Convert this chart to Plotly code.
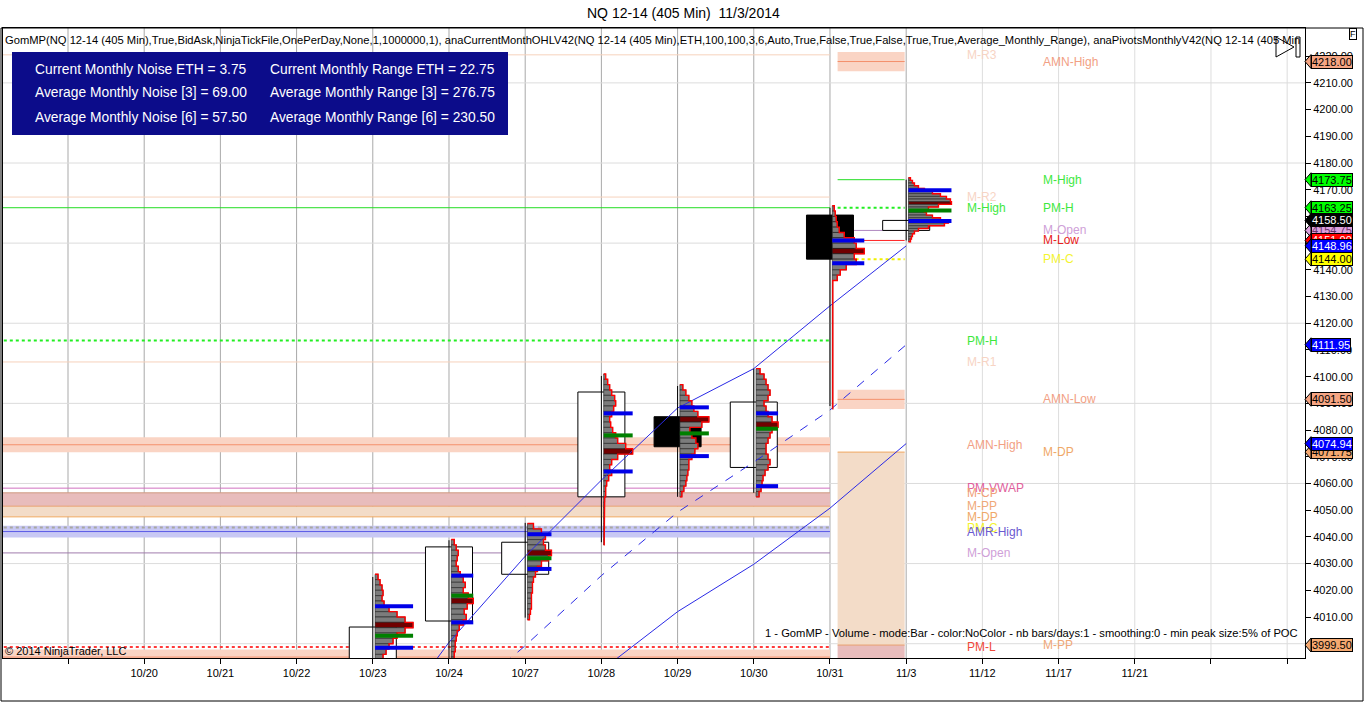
import plotly.graph_objects as go

# ---- values ----
slot_labels = ["", "10/20", "10/21", "10/22", "10/23", "10/24", "10/27", "10/28",
               "10/29", "10/30", "10/31", "11/3", "11/12", "11/17", "11/21", "", ""]

# 405 min bars (one per session)
bar_dates = ["10/23", "10/24", "10/27", "10/28", "10/29", "10/30", "10/31", "11/3"]
bar_open = [3990.0, 4008.5, 4026.0, 4055.0, 4085.0, 4066.0, 4160.5, 4154.75]
bar_high = [4025.0, 4038.75, 4045.25, 4100.25, 4096.5, 4103.0, 4163.25, 4173.75]
bar_low = [3986.0, 3992.0, 4009.75, 4038.0, 4055.0, 4056.5, 4089.0, 4151.0]
bar_close = [4006.25, 4036.25, 4038.0, 4094.25, 4073.75, 4090.5, 4144.0, 4158.5]

# GomMP volume profile of each bar: top bucket, bucket size, volume per bucket (top -> down)
prof_top = [4025, 4038, 4044, 4100, 4096, 4102, 4163, 4174]
prof_step = [2, 2, 2, 2, 2, 2, 2, 1]
vol_1023 = [3, 5, 7, 8, 7, 9, 14, 22, 30, 38, 30, 22, 18, 14, 11, 8, 6, 4]
vol_1024 = [3, 5, 7, 6, 5, 7, 9, 12, 14, 12, 17, 22, 16, 13, 15, 12, 8, 6, 5, 4, 4, 3, 3]
vol_1027 = [6, 14, 18, 16, 18, 24, 21, 14, 10, 8, 6, 5, 5, 4, 4, 4, 3, 2]
vol_1028 = [2, 4, 6, 8, 11, 12, 10, 8, 6, 7, 9, 12, 14, 22, 29, 14, 8, 6, 8, 5, 3, 2, 2, 1,
            0.5, 0.5, 0.5, 0.5, 0.5, 0.5, 0.5, 0.5]
vol_1029 = [3, 6, 9, 12, 14, 18, 29, 22, 10, 12, 16, 18, 15, 12, 9, 9, 8, 7, 6, 4, 2]
vol_1030 = [4, 8, 10, 12, 14, 12, 8, 10, 12, 16, 22, 16, 14, 12, 10, 10, 12, 14, 12, 9, 7, 6, 5, 3]
vol_1031 = [2, 3, 4, 5, 7, 12, 22, 24, 32, 22, 24, 14, 8, 5,
            0.5, 0.5, 0.5, 0.5, 0.5, 0.5, 0.5, 0.5, 0.5, 0.5, 0.5, 0.5,
            0.5, 0.5, 0.5, 0.5, 0.5, 0.5, 0.5, 0.5, 0.5, 0.5, 0.5, 0.5]
vol_1103 = [2, 4, 6, 10, 16, 24, 32, 38, 42, 43, 30, 20, 16, 18, 24, 32, 40, 36, 20, 10, 6, 4, 3, 2]
prof_vols = [vol_1023, vol_1024, vol_1027, vol_1028, vol_1029, vol_1030, vol_1031, vol_1103]
prof_vah = [4014.0, 4025.5, 4041.0, 4086.25, 4088.5, 4086.25, 4151.0, 4169.75]
prof_val = [3998.5, 4008.0, 4028.0, 4064.5, 4070.25, 4059.0, 4142.5, 4158.25]
prof_vwap = [4003.0, 4018.0, 4032.0, 4078.0, 4078.75, 4080.5, None, 4162.25]

# blue diagonal lines (value per bar slot)
up_dates = ["10/23", "10/24", "10/27", "10/28", "10/29", "10/30", "10/31", "11/3"]
up_vals = [3962.0, 4000.5, 4032.75, 4061.25, 4088.25, 4103.0, 4126.5, 4148.96]
mid_dates = ["10/24", "10/27", "10/28", "10/29", "10/30", "10/31", "11/3"]
mid_vals = [3975.0, 3999.25, 4025.5, 4049.25, 4068.0, 4087.5, 4111.95]
lo_dates = ["10/28", "10/29", "10/30", "10/31", "11/3"]
lo_vals = [3990.0, 4012.0, 4029.75, 4050.75, 4074.94]

# monthly levels: October (drawn over the October bars) and November
oct_names = ["M-R3", "M-R2", "M-High", "PM-H", "M-R1", "AMN-High", "PM-VWAP", "M-CP",
             "M-PP", "M-DP", "PM-C", "AMR-High", "M-Open", "PM-L", "AMN-Low"]
oct_values = [4220.5, 4167.25, 4163.25, 4113.5, 4105.5, 4074.5, 4058.25, 4056.5,
              4051.5, 4047.5, 4043.5, 4042.0, 4034.0, 3998.75, 3995.0]
nov_names = ["AMN-High", "M-High", "PM-H", "M-Open", "M-Low", "PM-C", "AMN-Low",
             "M-DP", "M-PP", "M-CP"]
nov_values = [4218.0, 4173.75, 4163.25, 4154.75, 4151.0, 4144.0, 4091.5,
              4071.75, 3999.5, 3990.0]

# price tags on the right axis (drawn in this order)
tag_values = [4218.00, 4173.75, 4163.25, 4154.75, 4151.00, 4148.96, 4158.50, 4144.00,
              4111.95, 4091.50, 4071.75, 4074.94, 3999.50]
tag_fill = ["#f6a583", "#00ff00", "#00ff00", "#dda0dd", "#ff0000", "#0000ff", "#000000",
            "#ffff00", "#0000ff", "#f6a583", "#f4a870", "#0000ff", "#f4a870"]
tag_font = ["#000000", "#000000", "#000000", "#6a306a", "#ffffff", "#ffffff", "#ffffff",
            "#000000", "#ffffff", "#000000", "#000000", "#ffffff", "#000000"]

info_left = ["Current Monthly Noise ETH = 3.75", "Average Monthly Noise [3] = 69.00",
             "Average Monthly Noise [6] = 57.50"]
info_right = ["Current Monthly Range ETH = 22.75", "Average Monthly Range [3] = 276.75",
              "Average Monthly Range [6] = 230.50"]

tick_levels = [4010, 4020, 4030, 4040, 4050, 4060, 4070, 4080, 4090, 4100, 4110,
               4120, 4130, 4140, 4150, 4160, 4170, 4180, 4190, 4200, 4210, 4220]
grid_levels = [4000, 4030, 4060, 4090, 4120, 4150, 4180, 4210]

header = ("GomMP(NQ 12-14 (405 Min),True,BidAsk,NinjaTickFile,OnePerDay,None,1,1000000,1), "
          "anaCurrentMonthOHLV42(NQ 12-14 (405 Min),ETH,100,100,3,6,Auto,True,False,True,False,"
          "True,True,Average_Monthly_Range), anaPivotsMonthlyV42(NQ 12-14 (405 Min")

# ---- layout helpers ----
W, H = 1366, 703
ML, MR, MT, MB = 3, 61, 28, 45
PW, PH = W - ML - MR, H - MT - MB
FONT = "Liberation Sans, Arial, sans-serif"
PX_PER_SLOT = 76.2
X_RANGE = [-0.853, 16.234]
Y_RANGE = [3994.65, 4230.55]
OCT_SPAN = (-1.0, 10.0)
NOV_SPAN = (10.1, 10.98)
OCT_LABEL_X, NOV_LABEL_X = 11.77, 12.77


def px(x):
    return (x - ML) / PW


def py(y):
    return (H - MB - y) / PH


LINE_STYLE = {
    "M-R3": ("#f6d2bc", 1, "solid"), "M-R2": ("#f6d2bc", 1, "solid"), "M-R1": ("#f6d2bc", 1, "solid"),
    "M-High": ("#22dd22", 1, "solid"), "PM-H": ("#22ee22", 2, "dot"),
    "AMN-High": ("#f4906c", 1, "solid"), "AMN-Low": ("#f4906c", 1, "solid"),
    "PM-VWAP": ("#d070c0", 1, "solid"), "M-CP": ("#cf9a80", 1, "solid"),
    "M-PP": ("#e8a070", 1, "solid"), "M-DP": ("#f0a860", 1, "solid"),
    "PM-C": ("#f0f000", 2, "dot"), "AMR-High": ("#5a5ae6", 1, "solid"),
    "M-Open": ("#b088c0", 1, "solid"), "M-Low": ("#ff2020", 1, "solid"),
    "PM-L": ("#ff3a3a", 2, "dot"),
}
LABEL_COLOR = {
    "M-R3": "#f7d4c4", "M-R2": "#f7d4c4", "M-R1": "#f7d4c4", "M-High": "#3ee83e",
    "PM-H": "#3ee83e", "AMN-High": "#f2a084", "AMN-Low": "#f2a084", "PM-VWAP": "#e0609c",
    "M-CP": "#f0a078", "M-PP": "#f0a878", "M-DP": "#f0a868", "PM-C": "#f4f430",
    "AMR-High": "#6a5ad0", "M-Open": "#cfa0d8", "M-Low": "#e82020", "PM-L": "#f04a3a",
}

fig = go.Figure()
shapes = []
annotations = []


def add_month(names, values, span, band_half):
    lv = dict(zip(names, values))
    x0, x1 = span
    # pivot range bands
    if "M-CP" in lv and "M-PP" in lv:
        shapes.append(dict(type="rect", xref="x", yref="y", x0=x0, x1=x1, y0=lv["M-PP"], y1=lv["M-CP"],
                           fillcolor="#e8bcbc", line_width=0, layer="below"))
    if "M-PP" in lv and "M-DP" in lv:
        shapes.append(dict(type="rect", xref="x", yref="y", x0=x0, x1=x1, y0=lv["M-PP"], y1=lv["M-DP"],
                           fillcolor="#f3dcc8", line_width=0, layer="below"))
    for nm in ("AMN-High", "AMN-Low"):
        if nm in lv:
            shapes.append(dict(type="rect", xref="x", yref="y", x0=x0, x1=x1,
                               y0=lv[nm] - band_half, y1=lv[nm] + band_half,
                               fillcolor="#fad4c4", line_width=0, layer="below"))
    if "AMR-High" in lv:
        shapes.append(dict(type="rect", xref="x", yref="y", x0=x0, x1=x1,
                           y0=lv["AMR-High"] - 2.2, y1=lv["AMR-High"] + 2.2,
                           fillcolor="#c8c8f4", line_width=0, layer="below"))


def add_month_lines(names, values, span, label_x, override=None):
    x0, x1 = span
    for nm, v in zip(names, values):
        col, wd, dash = LINE_STYLE[nm]
        if override and nm in override:
            col, wd, dash = override[nm]
        shapes.append(dict(type="line", xref="x", yref="y", x0=x0, x1=x1, y0=v, y1=v,
                           line=dict(color=col, width=wd, dash=dash), layer="below"))
        if Y_RANGE[0] + 2 < v < Y_RANGE[1] - 2:
            annotations.append(dict(xref="x", yref="y", x=label_x, y=v, xanchor="left",
                                    yanchor="middle", text=nm, showarrow=False,
                                    font=dict(family=FONT, size=12, color=LABEL_COLOR[nm])))


add_month(oct_names, oct_values, OCT_SPAN, 2.8)
add_month(nov_names, nov_values, NOV_SPAN, 3.6)

# grid: darker verticals on the sessions with data, light ones after
last_slot = slot_labels.index(bar_dates[-1])
for s in range(len(slot_labels)):
    shapes.append(dict(type="line", xref="x", yref="paper", x0=s, x1=s, y0=0, y1=1,
                       line=dict(color="#a9a9a9" if s <= last_slot else "#dddddd", width=1),
                       layer="below"))
for g in grid_levels:
    shapes.append(dict(type="line", xref="paper", yref="y", x0=0, x1=1, y0=g, y1=g,
                       line=dict(color="#dcdcdc", width=1), layer="below"))

add_month_lines(oct_names, oct_values, OCT_SPAN, OCT_LABEL_X,
                override={"PM-C": ("#a8a8a0", 2, "dot"), "M-Open": ("#a07cac", 1, "solid")})
add_month_lines(nov_names, nov_values, NOV_SPAN, NOV_LABEL_X)

# blue diagonal lines
for dates, vals, dash in ((up_dates, up_vals, "solid"), (mid_dates, mid_vals, "dash"),
                          (lo_dates, lo_vals, "solid")):
    fig.add_trace(go.Scatter(x=[slot_labels.index(d) for d in dates], y=vals, mode="lines",
                             line=dict(color="#2a2ae6", width=1, dash=dash),
                             hoverinfo="skip", showlegend=False))

# candles
bx = [slot_labels.index(d) for d in bar_dates]
fig.add_trace(go.Bar(x=bx, y=[abs(c - o) for o, c in zip(bar_open, bar_close)],
                     base=[min(o, c) for o, c in zip(bar_open, bar_close)], width=0.617,
                     marker=dict(color=["white" if c >= o else "black" for o, c in zip(bar_open, bar_close)],
                                 line=dict(color="black", width=1)),
                     hoverinfo="skip", showlegend=False))
wx, wy = [], []
for x, lo, hi in zip(bx, bar_low, bar_high):
    wx += [x, x, None]
    wy += [lo, hi, None]
fig.add_trace(go.Scatter(x=wx, y=wy, mode="lines", line=dict(color="black", width=1),
                         hoverinfo="skip", showlegend=False))

# volume profiles
bl_x, bl_y, gr_x, gr_y = [], [], [], []
for k in range(len(bar_dates)):
    s = bx[k] + 0.03
    vols = prof_vols[k]
    step = prof_step[k]
    prices = [prof_top[k] - step * j for j in range(len(vols))]
    widths = [v / PX_PER_SLOT for v in vols]
    vmax = max(vols)
    fig.add_trace(go.Bar(orientation="h", y=prices, x=widths, base=s, width=step,
                         marker=dict(color=["#700000" if v == vmax else "#7c7c7c" for v in vols],
                                     line=dict(color="#1e1e1e", width=0.6)),
                         hoverinfo="skip", showlegend=False))
    ox, oy = [s], [prices[0] + step / 2]
    for p, w in zip(prices, widths):
        ox += [s + w, s + w]
        oy += [p + step / 2, p - step / 2]
    ox.append(s)
    oy.append(prices[-1] - step / 2)
    fig.add_trace(go.Scatter(x=ox, y=oy, mode="lines", line=dict(color="#ff0000", width=1.4),
                             hoverinfo="skip", showlegend=False))
    ln = vmax / PX_PER_SLOT
    for v in (prof_vah[k], prof_val[k]):
        bl_x += [s, s + ln, None]
        bl_y += [v, v, None]
    if prof_vwap[k] is not None:
        gr_x += [s, s + ln, None]
        gr_y += [prof_vwap[k], prof_vwap[k], None]
fig.add_trace(go.Scatter(x=bl_x, y=bl_y, mode="lines", line=dict(color="#0000e8", width=4),
                         hoverinfo="skip", showlegend=False))
fig.add_trace(go.Scatter(x=gr_x, y=gr_y, mode="lines", line=dict(color="#008000", width=4),
                         hoverinfo="skip", showlegend=False))

# right axis price tags
tip = 6 / PW
for v, fc, tc in zip(tag_values, tag_fill, tag_font):
    shapes.append(dict(type="path", xref="paper", yref="y",
                       path=f"M 1.0,{v} L {1 + tip},{v + 2.6} L {1 + tip},{v - 2.6} Z",
                       fillcolor=fc, line=dict(color="black", width=1), layer="above"))
    annotations.append(dict(xref="paper", yref="y", x=1 + tip, y=v, xanchor="left",
                            yanchor="middle", text=f"{v:.2f}", showarrow=False,
                            bgcolor=fc, bordercolor="black", borderwidth=1, borderpad=0,
                            font=dict(family=FONT, size=11, color=tc)))

# info box
shapes.append(dict(type="rect", xref="paper", yref="paper", x0=px(12), x1=px(508),
                   y0=py(135), y1=py(52), fillcolor="#0c0c8a", line_width=0, layer="above"))
for r, (a, b) in enumerate(zip(info_left, info_right)):
    yy = py(69 + 24 * r)
    annotations.append(dict(xref="paper", yref="paper", x=px(33), y=yy, xanchor="left",
                            yanchor="middle", text=a, showarrow=False,
                            font=dict(family=FONT, size=13.8, color="white")))
    annotations.append(dict(xref="paper", yref="paper", x=px(268), y=yy, xanchor="left",
                            yanchor="middle", text=b, showarrow=False,
                            font=dict(family=FONT, size=13.8, color="white")))

# frame, F box and the scroll icon
shapes.append(dict(type="rect", xref="paper", yref="paper", x0=px(1), x1=px(1363),
                   y0=py(701), y1=py(28), line=dict(color="black", width=1), layer="above"))
shapes.append(dict(type="path", xref="paper", yref="paper",
                   path=f"M {px(1276)},{py(37)} L {px(1294)},{py(47)} L {px(1276)},{py(57)} Z",
                   line=dict(color="black", width=1), layer="above"))
shapes.append(dict(type="rect", xref="paper", yref="paper", x0=px(1296), x1=px(1300),
                   y0=py(57), y1=py(37), line=dict(color="black", width=1), layer="above"))
annotations.append(dict(xref="paper", yref="paper", x=px(1357), y=py(34), text="F",
                        showarrow=False, bgcolor="white", bordercolor="black", borderwidth=1,
                        borderpad=0, yanchor="middle",
                        font=dict(family=FONT, size=9, color="black")))

# texts
annotations += [
    dict(xref="paper", yref="paper", x=px(683), y=py(13), yanchor="middle",
         text="NQ 12-14 (405 Min)  11/3/2014",
         showarrow=False, font=dict(family=FONT, size=14, color="black")),
    dict(xref="paper", yref="paper", x=0, y=py(40), xanchor="left", yanchor="middle",
         text=header, showarrow=False, font=dict(family=FONT, size=11.2, color="black")),
    dict(xref="paper", yref="paper", x=px(1300), y=py(633), xanchor="right", yanchor="middle",
         text="1 - GomMP - Volume - mode:Bar - color:NoColor - nb bars/days:1 - smoothing:0 - min peak size:5% of POC",
         showarrow=False, font=dict(family=FONT, size=11.2, color="black")),
    dict(xref="paper", yref="paper", x=0, y=py(651), xanchor="left", yanchor="middle",
         text="© 2014 NinjaTrader, LLC", showarrow=False,
         font=dict(family=FONT, size=11, color="black")),
]

fig.update_layout(
    width=W, height=H, margin=dict(l=ML, r=MR, t=MT, b=MB),
    plot_bgcolor="white", paper_bgcolor="white",
    barmode="overlay", showlegend=False, hovermode=False,
    shapes=shapes, annotations=annotations,
    xaxis=dict(range=X_RANGE, tickvals=list(range(len(slot_labels))), ticktext=slot_labels,
               ticks="outside", ticklen=5, tickcolor="black", showgrid=False, zeroline=False,
               showline=True, mirror=True, linecolor="black", linewidth=1,
               tickfont=dict(family=FONT, size=11, color="black")),
    yaxis=dict(range=Y_RANGE, side="right", tickvals=tick_levels, tickformat=".2f",
               ticks="outside", ticklen=5, tickcolor="black", showgrid=False, zeroline=False,
               showline=True, mirror=True, linecolor="black", linewidth=1,
               tickfont=dict(family=FONT, size=11, color="black")),
)

# the page's default body margin would shift the fixed-size figure
fig.write_html("out.html", config={"displayModeBar": False},
               post_script="document.body.style.margin='0px';")
